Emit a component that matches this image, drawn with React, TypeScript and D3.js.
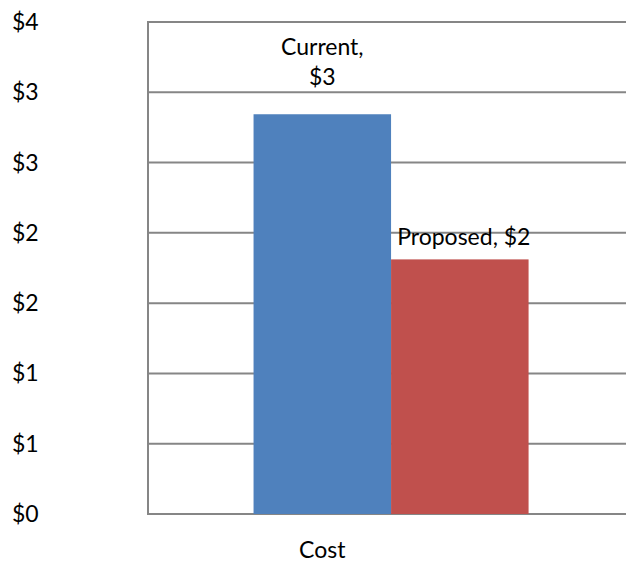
import React, { useRef, useEffect } from "react";
import { select, scaleBand, scaleLinear, range } from "d3";

// chart data
const categories = ["Cost"];
const seriesNames = ["Current", "Proposed"];
const seriesColors = ["#4F81BD", "#C0504D"];
const currentValues = [3.25];
const proposedValues = [2.07];
const yMax = 4;
const tickCount = 7; // axis step is 4/7, Excel style

const fmt = (v: number) => "$" + Math.round(v);

const App = () => {
  const chartRef = useRef<SVGSVGElement | null>(null);

  useEffect(() => {
    const width = 626;
    const height = 565;
    const margin = { top: 22, right: 0, bottom: 51, left: 148 };
    const font = "Lato, 'Noto Sans', sans-serif";
    const fontSize = 23;

    const svg = select(chartRef.current);
    svg.selectAll("*").remove();

    const yScale = scaleLinear()
      .domain([0, yMax])
      .range([height - margin.bottom, margin.top]);

    const xScale = scaleBand<string>()
      .domain(categories)
      .range([margin.left, width - margin.right])
      .paddingOuter(0.369)
      .align(0.52);

    const xInner = scaleBand<string>()
      .domain(seriesNames)
      .range([0, xScale.bandwidth()]);

    const ticks = range(tickCount + 1).map((i) => (yMax / tickCount) * i);

    // gridlines
    svg
      .append("g")
      .selectAll("line")
      .data(ticks)
      .enter()
      .append("line")
      .attr("x1", margin.left)
      .attr("x2", width - margin.right)
      .attr("y1", (d) => yScale(d))
      .attr("y2", (d) => yScale(d))
      .attr("stroke", "#868686")
      .attr("stroke-width", 2);

    // left axis line
    svg
      .append("line")
      .attr("x1", margin.left)
      .attr("x2", margin.left)
      .attr("y1", yScale(yMax) - 1)
      .attr("y2", yScale(0) + 1)
      .attr("stroke", "#868686")
      .attr("stroke-width", 2);

    // y tick labels
    svg
      .append("g")
      .selectAll("text")
      .data(ticks)
      .enter()
      .append("text")
      .attr("x", 12)
      .attr("y", (d) => yScale(d))
      .attr("dy", "0.35em")
      .attr("font-family", font)
      .attr("font-size", fontSize)
      .attr("fill", "#000")
      .text((d) => fmt(d));

    const series = [
      { name: "Current", values: currentValues },
      { name: "Proposed", values: proposedValues },
    ];

    // bars
    series.forEach((s, si) => {
      svg
        .append("g")
        .selectAll("rect")
        .data(categories)
        .enter()
        .append("rect")
        .attr("x", (c) => (xScale(c) as number) + (xInner(s.name) as number))
        .attr("y", (_c, i) => yScale(s.values[i]))
        .attr("width", xInner.bandwidth())
        .attr("height", (_c, i) => yScale(0) - yScale(s.values[i]))
        .attr("fill", seriesColors[si]);
    });

    // data labels
    categories.forEach((c, i) => {
      const cx0 = (xScale(c) as number) + (xInner("Current") as number) + xInner.bandwidth() / 2;
      const t = svg
        .append("text")
        .attr("text-anchor", "middle")
        .attr("font-family", font)
        .attr("font-size", fontSize)
        .attr("fill", "#000");
      t.append("tspan").attr("x", cx0).attr("y", yScale(currentValues[i]) - 59).text("Current,");
      t.append("tspan").attr("x", cx0).attr("y", yScale(currentValues[i]) - 29).text(fmt(currentValues[i]));

      const cx1 = (xScale(c) as number) + (xInner("Proposed") as number) + xInner.bandwidth() / 2;
      svg
        .append("text")
        .attr("x", cx1 + 4)
        .attr("y", yScale(proposedValues[i]) - 14)
        .attr("text-anchor", "middle")
        .attr("font-family", font)
        .attr("font-size", fontSize)
        .attr("fill", "#000")
        .text("Proposed, " + fmt(proposedValues[i]));

      // category label
      svg
        .append("text")
        .attr("x", cx0)
        .attr("y", height - 7)
        .attr("text-anchor", "middle")
        .attr("font-family", font)
        .attr("font-size", fontSize)
        .attr("fill", "#000")
        .text(c);
    });
  }, []);

  return (
    <svg
      ref={chartRef}
      width={626}
      height={565}
      style={{ position: "absolute", left: 0, top: 0, background: "#fff" }}
    />
  );
};

export default App;
